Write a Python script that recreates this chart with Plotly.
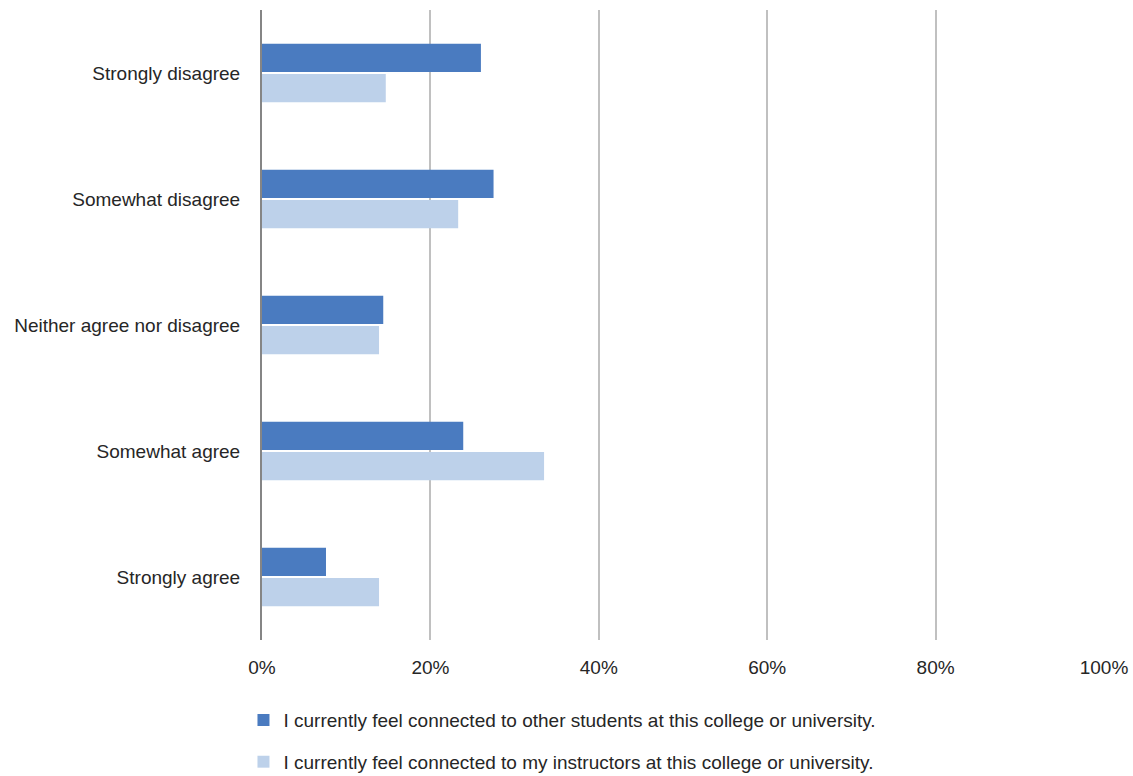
import plotly.graph_objects as go

categories = ["Strongly disagree", "Somewhat disagree", "Neither agree nor disagree",
              "Somewhat agree", "Strongly agree"]
students = [26.0, 27.5, 14.4, 23.9, 7.6]
instructors = [14.7, 23.3, 13.9, 33.5, 13.9]
series_names = [
    "I currently feel connected to other students at this college or university.",
    "I currently feel connected to my instructors at this college or university.",
]
tick_values = [0, 20, 40, 60, 80, 100]
tick_labels = ["0%", "20%", "40%", "60%", "80%", "100%"]

FONT = "Liberation Sans, Arial, sans-serif"

fig = go.Figure()
fig.add_trace(go.Bar(y=categories, x=students, orientation="h", name=series_names[0],
                     marker=dict(color="#4A7BC0", line=dict(width=0)), legendgroup="a"))
fig.add_trace(go.Bar(y=categories, x=instructors, orientation="h", name=series_names[1],
                     marker=dict(color="#BDD1EA", line=dict(width=0)), legendgroup="b"))

fig.update_layout(
    width=1133, height=776,
    margin=dict(l=262, r=29, t=10, b=136, autoexpand=False),
    paper_bgcolor="white", plot_bgcolor="white",
    barmode="group", bargap=0.52, bargroupgap=0.06,
    font=dict(family=FONT, size=19, color="#262626"),
    legend=dict(orientation="v", x=-0.022, xanchor="left", y=-0.097, yanchor="top",
                traceorder="grouped", tracegroupgap=14, font=dict(size=19, color="#262626"),
                bgcolor="rgba(0,0,0,0)"),
    showlegend=True,
)
fig.update_xaxes(range=[0, 100], tickvals=tick_values, ticktext=tick_labels,
                 showgrid=True, gridcolor="#C0C0C0", gridwidth=2, zeroline=False,
                 showline=False, ticks="", ticklabelstandoff=14, fixedrange=True)
fig.update_yaxes(autorange="reversed", showline=True, linecolor="#858585", linewidth=2,
                 ticks="", ticklabelstandoff=16, showgrid=False, fixedrange=True)

fig.write_html("out.html")
